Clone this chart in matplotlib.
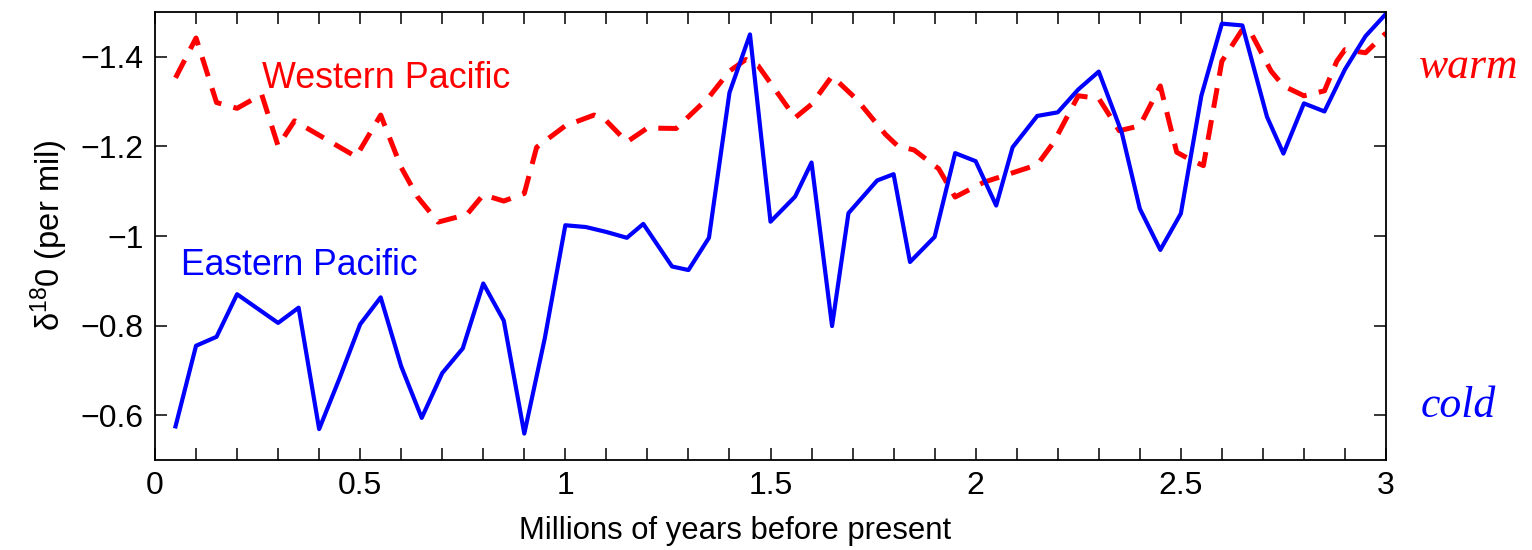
import numpy as np
import matplotlib
matplotlib.use('Agg')
import matplotlib.pyplot as plt

plt.rcParams['font.family'] = ['Liberation Sans', 'DejaVu Sans']
plt.rcParams['mathtext.fontset'] = 'custom'
plt.rcParams['mathtext.rm'] = 'Liberation Sans'
plt.rcParams['mathtext.it'] = 'Liberation Sans'
plt.rcParams['axes.unicode_minus'] = True

# Eastern Pacific record (Myr before present, d18O per mil)
east_age = [0.05, 0.10, 0.15, 0.20, 0.25, 0.30, 0.35, 0.40, 0.45, 0.50,
            0.55, 0.60, 0.65, 0.70, 0.75, 0.80, 0.85, 0.90, 0.95, 1.00,
            1.05, 1.10, 1.15, 1.19, 1.26, 1.30, 1.35, 1.40, 1.45, 1.50,
            1.56, 1.60, 1.65, 1.69, 1.76, 1.80, 1.84, 1.90, 1.95, 2.00,
            2.05, 2.09, 2.15, 2.20, 2.25, 2.30, 2.356, 2.40, 2.45, 2.50,
            2.55, 2.60, 2.65, 2.71, 2.75, 2.80, 2.85, 2.90, 2.95, 3.00]
east_d18o = [-0.575, -0.755, -0.775, -0.870, -0.838, -0.806, -0.840, -0.569, -0.683, -0.803,
             -0.863, -0.709, -0.594, -0.694, -0.749, -0.894, -0.811, -0.559, -0.772, -1.024,
             -1.020, -1.009, -0.996, -1.027, -0.932, -0.924, -0.996, -1.320, -1.450, -1.032,
             -1.088, -1.164, -0.799, -1.051, -1.124, -1.138, -0.942, -0.998, -1.185, -1.167,
             -1.068, -1.198, -1.268, -1.276, -1.327, -1.367, -1.231, -1.061, -0.969, -1.050,
             -1.313, -1.474, -1.470, -1.266, -1.184, -1.296, -1.278, -1.372, -1.446, -1.496]

# Western Pacific record
west_age = [0.05, 0.10, 0.15, 0.20, 0.26, 0.30, 0.34, 0.49, 0.55, 0.60,
            0.64, 0.69, 0.76, 0.80, 0.85, 0.90, 0.93, 1.00, 1.07, 1.10,
            1.15, 1.20, 1.27, 1.35, 1.40, 1.44, 1.47, 1.56, 1.60, 1.65,
            1.71, 1.78, 1.81, 1.85, 1.89, 1.91, 1.95, 2.02, 2.07, 2.15,
            2.19, 2.25, 2.30, 2.35, 2.40, 2.45, 2.49, 2.52, 2.555, 2.60,
            2.65, 2.67, 2.72, 2.75, 2.80, 2.85, 2.88, 2.90, 2.95, 3.00]
west_d18o = [-1.353, -1.442, -1.298, -1.285, -1.316, -1.201, -1.257, -1.177, -1.270, -1.153,
             -1.087, -1.031, -1.048, -1.092, -1.078, -1.095, -1.198, -1.246, -1.270, -1.257,
             -1.210, -1.241, -1.240, -1.310, -1.368, -1.394, -1.380, -1.264, -1.294, -1.357,
             -1.305, -1.227, -1.201, -1.192, -1.164, -1.150, -1.087, -1.120, -1.135, -1.159,
             -1.209, -1.313, -1.307, -1.235, -1.246, -1.335, -1.187, -1.172, -1.157, -1.390,
             -1.461, -1.455, -1.368, -1.335, -1.313, -1.324, -1.390, -1.416, -1.409, -1.453]

fig = plt.figure(figsize=(15.32, 5.5), dpi=100)
ax = fig.add_axes([155 / 1532, 1 - 460 / 550, 1231 / 1532, 448 / 550])

ax.plot(west_age, west_d18o, color='#ff0000', lw=3.6, dashes=(4, 2.5))
ax.plot(east_age, east_d18o, color='#0000ff', lw=3.0)

ax.set_xlim(0, 3)
ax.set_ylim(-0.5, -1.5)
ax.set_xticks(np.arange(0, 3.01, 0.5))
ax.set_xticklabels(['0', '0.5', '1', '1.5', '2', '2.5', '3'])
ax.set_xticks(np.arange(0, 3.01, 0.1), minor=True)
ax.set_yticks([-1.4, -1.2, -1.0, -0.8, -0.6])
ax.set_yticklabels(['\u22121.4', '\u22121.2', '\u22121', '\u22120.8', '\u22120.6'])
ax.tick_params(which='both', direction='in', length=8.5, width=1.1,
               top=True, right=True, labelsize=23, pad=8)
for s in ax.spines.values():
    s.set_linewidth(1.3)

ax.set_xlabel('Millions of years before present', fontsize=22.3)
ax.xaxis.set_label_coords(0.471, -0.125)
ax.set_ylabel('\u03b4$^{18}$0 (per mil)', fontsize=23.5)
ax.yaxis.set_label_coords(-0.069, 0.502)

ax.text(0.261, -1.331, 'Western Pacific', color='#ff0000', fontsize=25.8)
ax.text(0.063, -0.914, 'Eastern Pacific', color='#0000ff', fontsize=25.6)

ax.text(1.067, 0.853, 'warm', color='#ff0000', fontsize=31.5, style='italic',
        family='Liberation Serif', ha='center', transform=ax.transAxes)
ax.text(1.059, 0.096, 'cold', color='#0000ff', fontsize=31.5, style='italic',
        family='Liberation Serif', ha='center', transform=ax.transAxes)

fig.savefig('out.png', dpi=100)
